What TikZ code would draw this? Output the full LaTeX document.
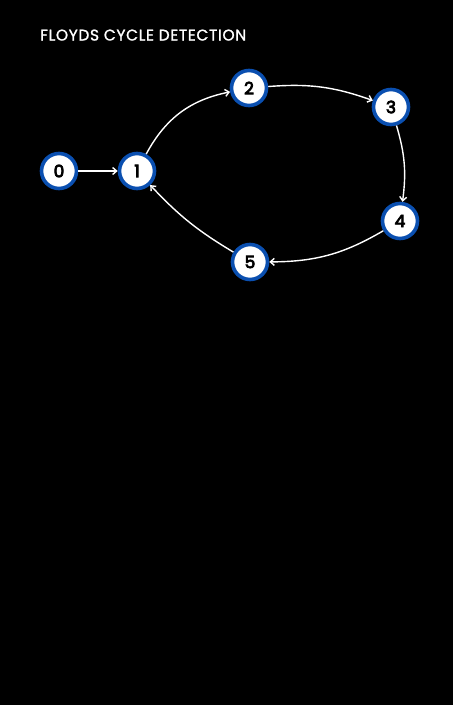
\documentclass[tikz,border=0pt]{standalone}
\usepackage{fontspec}
\setmainfont{Poppins}
\newfontfamily\titlefont[FakeBold=1.4,LetterSpace=4]{Poppins}
\newfontfamily\numfont[FakeBold=4.5]{Poppins}
\usetikzlibrary{arrows.meta}
\definecolor{nodeblue}{HTML}{0A4FB0}
\begin{document}
\begin{tikzpicture}[x=1pt,y=-1pt,
  vert/.style={circle,draw=nodeblue,line width=3.6pt,fill=white,minimum size=35pt,inner sep=0pt,font=\numfont\fontsize{17}{17}\selectfont,text=black},
  edge/.style={draw=white,line width=1.4pt,-{Straight Barb[length=4pt,width=7pt]}}]
\fill[black] (0,0) rectangle (453,705);
\useasboundingbox (0,0) rectangle (453,705);
\node[anchor=base west,text=white,font=\titlefont\fontsize{15.5}{15.5}\selectfont,inner sep=0pt] (title) at (40,40.5) {FLOYDS CYCLE DETECTION};
\node[vert] (n0) at (59,171) {0};
\node[vert] (n1) at (137,171) {1};
\node[vert] (n2) at (249,88) {2};
\node[vert] (n3) at (391,107) {3};
\node[vert] (n4) at (400,221) {4};
\node[vert] (n5) at (250,262) {5};
\draw[edge] (n0) -- (n1);
\draw[edge] (n1) to[bend left=25] (n2);
\draw[edge] (n2) to[bend left=12] (n3);
\draw[edge] (n3) to[bend left=12] (n4);
\draw[edge] (n4) to[bend left=15] (n5);
\draw[edge] (n5) to[bend left=8] (n1);
\end{tikzpicture}
\end{document}
